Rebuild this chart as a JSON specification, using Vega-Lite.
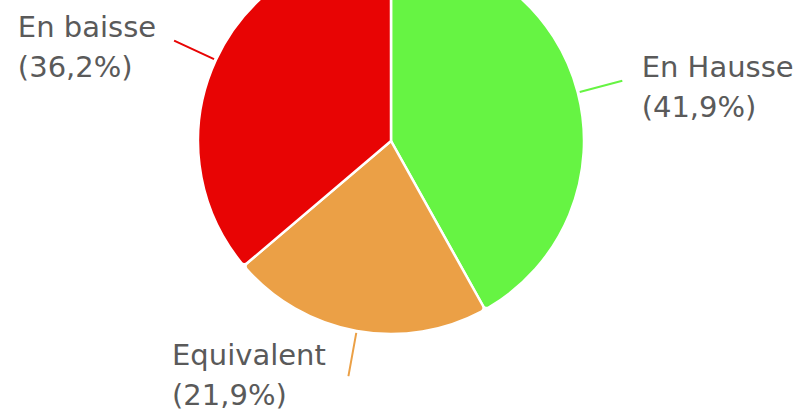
{
  "$schema": "https://vega.github.io/schema/vega-lite/v6.json",
  "width": 782,
  "height": 282,
  "autosize": {"type": "none"},
  "padding": {"left": 0, "top": 0, "right": 19, "bottom": 130},
  "background": "white",
  "config": {"view": {"stroke": null}},
  "data": {
    "values": [
      {"k": 1, "name": "En Hausse", "pct": 41.9, "txt": "En Hausse\n(41,9%)"},
      {"k": 2, "name": "Equivalent", "pct": 21.9, "txt": "Equivalent\n(21,9%)"},
      {"k": 3, "name": "En baisse", "pct": 36.2, "txt": "En baisse\n(36,2%)"}
    ]
  },
  "transform": [
    {"window": [{"op": "sum", "field": "pct", "as": "cum"}], "sort": [{"field": "k"}]},
    {"calculate": "datum.cum - datum.pct / 2", "as": "mid"}
  ],
  "layer": [
    {
      "mark": {"type": "arc", "outerRadius": 193, "stroke": "white", "strokeWidth": 2.5, "cornerRadius": 4},
      "encoding": {
        "theta": {"field": "pct", "type": "quantitative", "stack": true, "scale": {"domain": [0, 100]}},
        "order": {"field": "k", "type": "quantitative"},
        "color": {"field": "name", "type": "nominal", "legend": null,
          "scale": {"domain": ["En Hausse", "Equivalent", "En baisse"], "range": ["#66F443", "#EBA046", "#E80404"]}}
      }
    },
    {
      "mark": {"type": "arc", "filled": false, "radius": 239, "radius2": 195, "strokeWidth": 2},
      "encoding": {
        "theta": {"field": "mid", "type": "quantitative", "scale": {"domain": [0, 100]}},
        "theta2": {"field": "mid"},
        "color": {"field": "name", "type": "nominal", "legend": null}
      }
    },
    {
      "transform": [{"filter": "datum.name == 'En Hausse'"}],
      "mark": {"type": "text", "radius": 259, "align": "left", "baseline": "alphabetic", "dy": 1, "lineBreak": "\n", "lineHeight": 40, "font": "DejaVu Sans", "fontSize": 29, "color": "#5a5a5a"},
      "encoding": {
        "theta": {"field": "mid", "type": "quantitative", "scale": {"domain": [0, 100]}},
        "text": {"field": "txt"}
      }
    },
    {
      "transform": [{"filter": "datum.name == 'En baisse'"}],
      "mark": {"type": "text", "radius": 258, "align": "left", "baseline": "alphabetic", "dx": -139, "dy": 4, "lineBreak": "\n", "lineHeight": 40, "font": "DejaVu Sans", "fontSize": 29, "color": "#5a5a5a"},
      "encoding": {
        "theta": {"field": "mid", "type": "quantitative", "scale": {"domain": [0, 100]}},
        "text": {"field": "txt"}
      }
    },
    {
      "transform": [{"filter": "datum.name == 'Equivalent'"}],
      "mark": {"type": "text", "radius": 258, "align": "left", "baseline": "alphabetic", "dx": -173, "dy": -30, "lineBreak": "\n", "lineHeight": 40, "font": "DejaVu Sans", "fontSize": 29, "color": "#5a5a5a"},
      "encoding": {
        "theta": {"field": "mid", "type": "quantitative", "scale": {"domain": [0, 100]}},
        "text": {"field": "txt"}
      }
    }
  ]
}
